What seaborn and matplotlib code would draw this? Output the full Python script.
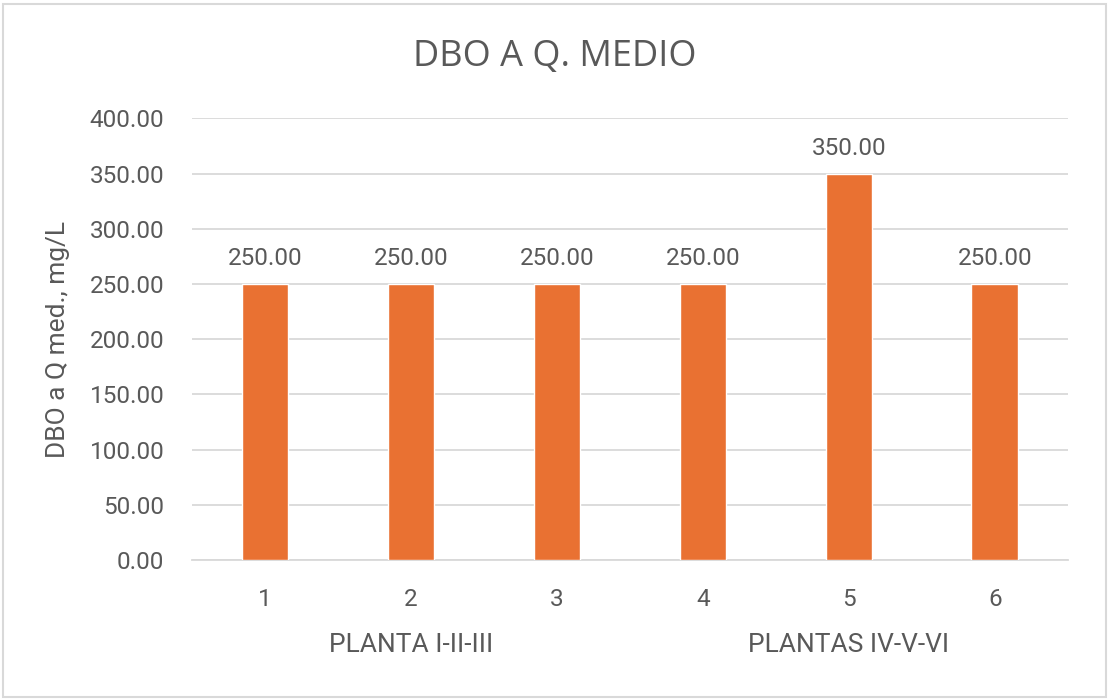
import matplotlib

matplotlib.use("Agg")

import matplotlib.pyplot as plt
import numpy as np
import pandas as pd
import seaborn as sns
from matplotlib.patches import Rectangle

# --- data ---------------------------------------------------------------------
categories = ["1", "2", "3", "4", "5", "6"]
dbo_values = [250.0, 250.0, 250.0, 250.0, 350.0, 250.0]
groups = ["PLANTA I-II-III", "PLANTAS IV-V-VI"]
group_members = [["1", "2", "3"], ["4", "5", "6"]]
y_ticks = [0, 50, 100, 150, 200, 250, 300, 350, 400]

BAR_COLOR = "#E97132"
TEXT_COLOR = "#595959"
GRID_COLOR = "#D9D9D9"

sns.set_style("white")
plt.rcParams["font.family"] = ["Roboto", "DejaVu Sans"]

df = pd.DataFrame({"cat": categories, "dbo": dbo_values})

fig = plt.figure(figsize=(11.1, 7.0), dpi=100)
ax = fig.add_axes([0.173, 0.2, 0.789, 0.631])

sns.barplot(data=df, x="cat", y="dbo", color=BAR_COLOR, width=0.32,
            saturation=1, ax=ax, zorder=3)

for c in ax.containers:
    ax.bar_label(c, fmt="%.2f", padding=10, fontsize=17.5, color=TEXT_COLOR)

ax.set_ylim(0, 400)
ax.set_yticks(y_ticks)
ax.set_yticklabels([f"{v:.2f}" for v in y_ticks])
ax.yaxis.grid(True, color=GRID_COLOR, linewidth=1.3, zorder=0)
ax.tick_params(axis="both", length=0, labelsize=17.5, labelcolor=TEXT_COLOR)
ax.tick_params(axis="y", pad=20)
ax.tick_params(axis="x", pad=20)
for side in ["top", "right", "left"]:
    ax.spines[side].set_visible(False)
ax.spines["bottom"].set_color(GRID_COLOR)
ax.spines["bottom"].set_linewidth(1.3)

ax.set_xlabel("")
ax.set_ylabel("DBO a Q med., mg/L", fontsize=19, color=TEXT_COLOR, labelpad=14)

# group labels under the category ticks
for name, members in zip(groups, group_members):
    idx = [categories.index(m) for m in members]
    ax.text(np.mean(idx), -0.193, name, transform=ax.get_xaxis_transform(),
            ha="center", va="center", fontsize=19, color=TEXT_COLOR)

fig.suptitle("DBO A Q. MEDIO", y=0.945, fontsize=26, color=TEXT_COLOR,
             family=["Open Sans", "DejaVu Sans"])

fig.patches.append(Rectangle((0.003, 0.004), 0.993, 0.99, transform=fig.transFigure,
                             fill=False, edgecolor=GRID_COLOR, linewidth=1.5))

fig.savefig("out.png", dpi=100, facecolor="white")
